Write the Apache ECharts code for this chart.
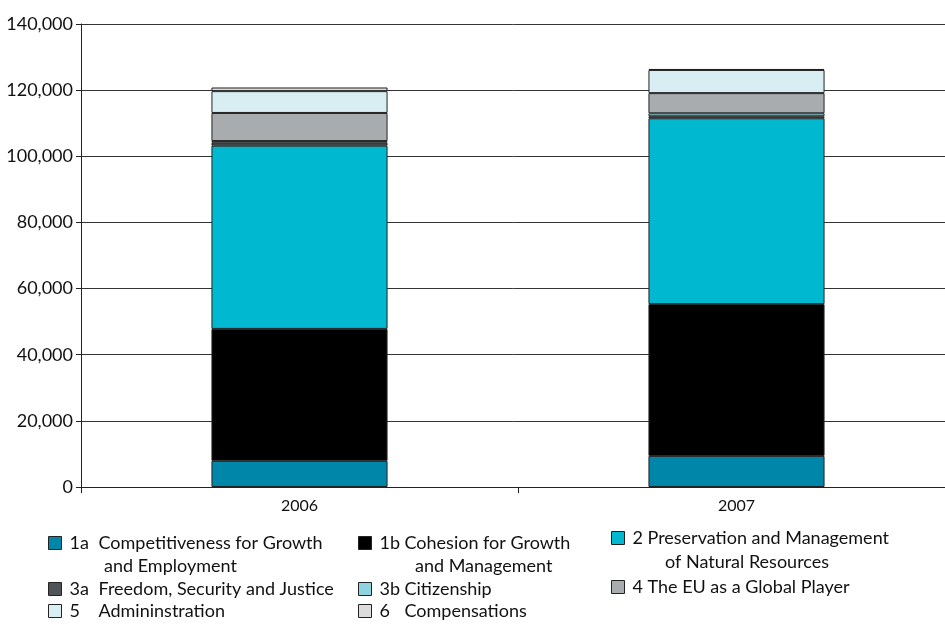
<!DOCTYPE html>
<html>
<head>
<meta charset="utf-8">
<script src="https://cdn.jsdelivr.net/npm/echarts@6/dist/echarts.min.js"></script>
<style>
  html, body { margin: 0; padding: 0; background: #fff; }
  #chart { width: 945px; height: 625px; }
</style>
</head>
<body>
<div id="chart"></div>
<script>
// years on the x axis
const years = ['2006', '2007']
// y axis ticks
const yTicks = [0, 20000, 40000, 60000, 80000, 100000, 120000, 140000]

// stacked segments, bottom to top
const competitiveness = [7900, 9400]
const cohesion = [39900, 45900]
const preservation = [55400, 56200]
const freedom = [900, 600]
const citizenship = [500, 900]
const globalPlayer = [8500, 6100]
const administration = [6600, 7000]
const compensations = [1100, 300]

const seriesCodes = ['1a', '1b', '2', '3a', '3b', '4', '5', '6']
const seriesTexts = [
  ['Competitiveness for Growth', 'and Employment'],
  ['Cohesion for Growth', 'and Management'],
  ['Preservation and Management', 'of Natural Resources'],
  ['Freedom, Security and Justice'],
  ['Citizenship'],
  ['The EU as a Global Player'],
  ['Admininstration'],
  ['Compensations']
]
const seriesValues = [competitiveness, cohesion, preservation, freedom, citizenship, globalPlayer, administration, compensations]
const colors = ['#0086a8', '#000000', '#00b8cf', '#4f5557', '#8fd3df', '#a9acaf', '#d8eef3', '#dcdcdc']

// legend layout: [left, first line center y, code width, second line indent, second line center y]
const legendPos = [
  [48, 545, 29, 38, 568],
  [358, 545, 25, 39, 568],
  [611, 540, 15, 36, 564],
  [48, 591, 29],
  [358, 591, 25],
  [611, 589, 15],
  [48, 613, 29],
  [358, 613, 25]
]

const FONT = 'Lato'
const LH = 22

const chart = echarts.init(document.getElementById('chart'))

const legends = []
seriesCodes.forEach((code, i) => {
  const p = legendPos[i]
  const lines = seriesTexts[i]
  legends.push({
    left: p[0],
    top: p[1] - LH / 2,
    padding: 0,
    data: [code],
    icon: 'rect',
    itemWidth: 13,
    itemHeight: 13,
    selectedMode: false,
    itemStyle: { borderColor: '#222', borderWidth: 1 },
    formatter: () => '{c|' + code + '}{t|' + lines[0] + '}',
    textStyle: {
      rich: {
        c: { width: p[2], padding: [0, 0, 0, 3], fontSize: 18, fontFamily: FONT, color: '#111', lineHeight: LH },
        t: { fontSize: 18, fontFamily: FONT, color: '#111', lineHeight: LH }
      }
    }
  })
  if (lines[1]) {
    legends.push({
      left: p[0],
      top: p[4] - LH / 2,
      padding: 0,
      data: [code],
      icon: 'rect',
      itemWidth: 13,
      itemHeight: 0,
      selectedMode: false,
      itemStyle: { opacity: 0, borderWidth: 0 },
      formatter: () => '{i| }{t|' + lines[1] + '}',
      textStyle: {
        rich: {
          i: { width: p[3], fontSize: 18, lineHeight: LH },
          t: { fontSize: 18, fontFamily: FONT, color: '#111', lineHeight: LH }
        }
      }
    })
  }
})

chart.setOption({
  animation: false,
  color: colors,
  grid: {
    left: 81, width: 874, top: 24, bottom: 138,
    containLabel: false,
    outerBoundsMode: 'none'
  },
  legend: legends,
  xAxis: {
    type: 'category',
    data: years,
    axisLine: { lineStyle: { color: '#222', width: 1 } },
    axisTick: { show: true, length: 6, lineStyle: { color: '#222' } },
    axisLabel: { fontFamily: FONT, fontSize: 16, color: '#111', margin: 11 }
  },
  yAxis: {
    type: 'value',
    min: yTicks[0],
    max: yTicks[yTicks.length - 1],
    interval: 20000,
    axisLine: { show: true, lineStyle: { color: '#222' } },
    axisTick: { show: true, length: 5, lineStyle: { color: '#222' } },
    axisLabel: {
      fontFamily: FONT,
      fontSize: 18,
      color: '#111',
      margin: 8,
      formatter: v => v.toLocaleString('en-US')
    },
    splitLine: { lineStyle: { color: '#333', width: 1 } }
  },
  series: seriesCodes.map((code, i) => ({
    name: code,
    type: 'bar',
    stack: 'total',
    barWidth: '40.3%',
    data: seriesValues[i],
    itemStyle: { color: colors[i], borderColor: '#222', borderWidth: 1 }
  }))
})
</script>
</body>
</html>
